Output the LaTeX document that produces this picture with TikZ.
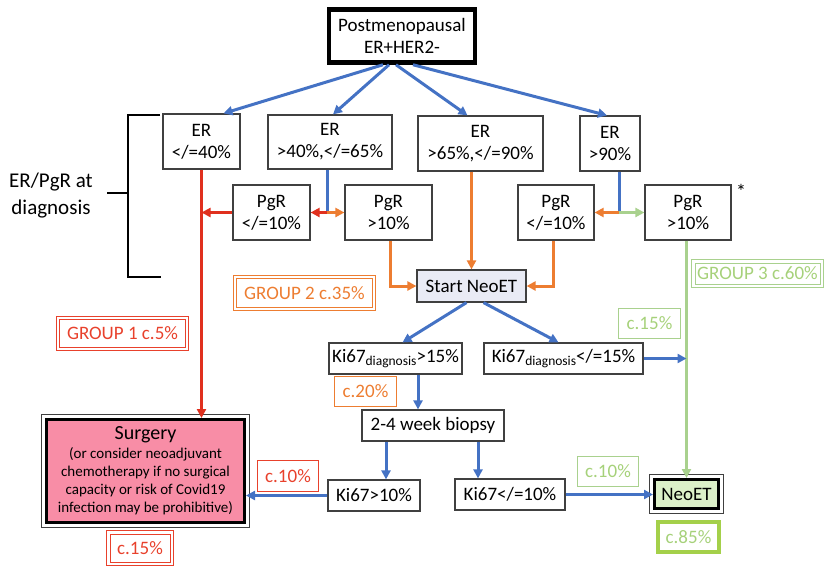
\documentclass[tikz,border=0pt]{standalone}
\usepackage{fontspec}
\setmainfont{Carlito}
\usetikzlibrary{arrows.meta,calc}
\definecolor{blueC}{HTML}{4472C4}
\definecolor{orangeC}{HTML}{ED7D31}
\definecolor{redC}{HTML}{E0301E}
\definecolor{redT}{HTML}{E8412C}
\definecolor{greenL}{HTML}{A9D18E}
\definecolor{greenT}{HTML}{A6D17A}
\definecolor{greenB}{HTML}{A4D04A}
\definecolor{pinkF}{HTML}{F88DA6}
\definecolor{startF}{HTML}{E9EBF5}
\definecolor{neoF}{HTML}{DCF0C8}
\definecolor{boxD}{HTML}{404040}
\newcommand{\mysub}[1]{\raisebox{-3.5pt}{\fontsize{13.5}{13.5}\selectfont #1}}
\newcommand{\dblframe}[2]{\draw[#2,line width=1pt] ([xshift=-2.8pt,yshift=2.8pt]#1.north west) rectangle ([xshift=2.8pt,yshift=-2.8pt]#1.south east);}
\tikzset{
  box/.style={draw=boxD,line width=1.2pt,align=center,inner sep=0pt,
    font=\fontsize{19}{22}\selectfont,fill=white},
  lab/.style={align=center,inner sep=0pt,font=\fontsize{19}{22}\selectfont},
  dbl/.style={lab,draw=#1,text=#1,line width=1pt},
  sgl/.style={lab,draw=#1,text=#1,line width=1.2pt},
  tip/.style={-{Triangle[length=9pt,width=9pt]}},
  conn/.style={line width=3pt,color=#1},
  arr/.style={conn=#1,tip},
}
\begin{document}
\begin{tikzpicture}[x=1pt,y=-1pt]
\useasboundingbox (0,0) rectangle (824,565);
% nodes
\node[box,draw=black,line width=4.5pt,minimum width=146pt,minimum height=53pt] (top) at (402,36) {Postmenopausal\\ER+HER2-};
\node[box,minimum width=77pt,minimum height=55pt] (er1) at (201.5,141.5) {ER\\</=40\%};
\node[box,minimum width=124pt,minimum height=54pt] (er2) at (330,142) {ER\\>40\%,</=65\%};
\node[box,minimum width=125pt,minimum height=55pt] (er3) at (480.5,143.5) {ER\\>65\%,</=90\%};
\node[box,minimum width=60pt,minimum height=55pt] (er4) at (610,143.5) {ER\\>90\%};
\node[box,minimum width=77pt,minimum height=55pt] (pgr1) at (271.5,212.5) {PgR\\</=10\%};
\node[box,minimum width=87pt,minimum height=55pt] (pgr2) at (388.5,212.5) {PgR\\>10\%};
\node[box,minimum width=76pt,minimum height=55pt] (pgr3) at (556,212.5) {PgR\\</=10\%};
\node[box,minimum width=86pt,minimum height=55pt] (pgr4) at (688,212.5) {PgR\\>10\%};
\node[lab,font=\fontsize{20}{22}\selectfont] (ast) at (741,191) {*};
\node[box,fill=startF,minimum width=109pt,minimum height=32pt] (start) at (471.5,286) {Start NeoET};
\node[box,minimum width=133pt,minimum height=31pt] (kd1) at (395.5,358.5) {Ki67\mysub{diagnosis}>15\%};
\node[box,minimum width=159pt,minimum height=31pt] (kd2) at (563.5,358.5) {Ki67\mysub{diagnosis}</=15\%};
\node[box,minimum width=142pt,minimum height=31pt] (bio) at (433,425.5) {2-4 week biopsy};
\node[box,minimum width=92pt,minimum height=31pt] (k1) at (374,495.5) {Ki67>10\%};
\node[box,minimum width=110pt,minimum height=31pt] (k2) at (510,494.5) {Ki67</=10\%};
\node[box,draw=black,line width=3pt,fill=neoF,minimum width=64pt,minimum height=29pt] (neo) at (686.5,494) {NeoET};
\draw[boxD,line width=1pt] ([xshift=-3.5pt,yshift=3.5pt]neo.north west) rectangle ([xshift=3.5pt,yshift=-3.5pt]neo.south east);
\node[box,draw=black,line width=3pt,fill=pinkF,minimum width=198pt,minimum height=103pt,
  font=\fontsize{15}{18}\selectfont] (surg) at (145.5,471)
  {{\fontsize{20}{20}\selectfont Surgery}\\[1pt]
   (or consider neoadjuvant\\
   chemotherapy if no surgical\\
   capacity or risk of Covid19\\
   infection may be prohibitive)};
\draw[boxD,line width=1pt] ([xshift=-3.5pt,yshift=3.5pt]surg.north west) rectangle ([xshift=3.5pt,yshift=-3.5pt]surg.south east);
% labels
\node[dbl=redT,minimum width=126pt,minimum height=28pt] (g1) at (122.5,333.5) {GROUP 1 c.5\%};
\dblframe{g1}{redT}
\node[dbl=orangeC,minimum width=136pt,minimum height=29pt] (g2) at (304.5,293) {GROUP 2 c.35\%};
\dblframe{g2}{orangeC}
\node[dbl=greenL,text=greenT,minimum width=125pt,minimum height=21pt] (g3) at (757.5,273.5) {GROUP 3 c.60\%};
\dblframe{g3}{greenL}
\node[sgl=greenL,text=greenT,minimum width=62pt,minimum height=30pt] (c15g) at (649.5,323.5) {c.15\%};
\node[sgl=orangeC,minimum width=62pt,minimum height=30pt] (c20) at (365.5,391.5) {c.20\%};
\node[sgl=redT,minimum width=61pt,minimum height=31pt] (c10r) at (288,476) {c.10\%};
\node[sgl=greenL,text=greenT,minimum width=61pt,minimum height=30pt] (c10g) at (608,471.5) {c.10\%};
\node[lab,draw=greenB,text=greenT,line width=4pt,minimum width=61pt,minimum height=30pt] (c85) at (688.5,537) {c.85\%};
\node[dbl=redT,minimum width=60pt,minimum height=28pt] (c15r) at (140,548) {c.15\%};
\dblframe{c15r}{redT}
% bracket
\node[lab,font=\fontsize{21}{27}\selectfont] (erpgr) at (51,196) {ER/PgR at\\diagnosis};
\draw[black,line width=2pt] (160,115) -- (128,115) -- (128,277) -- (161,277);
\draw[black,line width=2pt] (107,193) -- (128,193);
% top arrows
\draw[arr=blueC] ([xshift=-19pt]top.south) -- ([xshift=22pt]er1.north);
\draw[arr=blueC] ([xshift=-13pt]top.south) -- ([xshift=3pt]er2.north);
\draw[arr=blueC] ([xshift=-6pt]top.south) -- ([xshift=-13pt]er3.north);
\draw[arr=blueC] ([xshift=11pt]top.south) -- ([xshift=-3pt]er4.north);
% group 1
\draw[arr=redC] (er1.south) -- (er1.south |- surg.north);
\coordinate (jr) at (201.5,212.5);
\draw[arr=redC] (pgr1.west) -- (jr);
% ER2 split
\coordinate (j2) at (327,212.5);
\draw[conn=blueC] (j2 |- er2.south) -- (j2);
\draw[arr=redC] (j2) -- (pgr1.east);
\draw[arr=orangeC] (j2) -- (pgr2.west);
% to start
\draw[arr=orangeC] ([xshift=1.5pt]pgr2.south) -- ([xshift=1.5pt]pgr2.south |- start.west) -- (start.west);
\draw[arr=orangeC] (start.north |- er3.south) -- (start.north);
\draw[arr=orangeC] ([xshift=-3pt]pgr3.south) -- ([xshift=-3pt]pgr3.south |- start.east) -- (start.east);
% ER4 split
\coordinate (j4) at (619,212.5);
\draw[conn=blueC] (j4 |- er4.south) -- (j4);
\draw[arr=orangeC] (j4) -- (pgr3.east);
\draw[arr=greenL] (j4) -- (pgr4.west);
\draw[arr=greenL] (neo.north |- pgr4.south) -- (neo.north);
% from start
\draw[arr=blueC] ([xshift=-5pt]start.south) -- ([xshift=7pt]kd1.north);
\draw[arr=blueC] ([xshift=12pt]start.south) -- ([xshift=-5pt]kd2.north);
\draw[arr=blueC] (kd2.east) -- (kd2.east -| neo.north);
\draw[arr=blueC] ([xshift=22.5pt]kd1.south) -- ([xshift=22.5pt]kd1.south |- bio.north);
\draw[arr=blueC] ([xshift=-47pt]bio.south) -- ([xshift=-47pt]bio.south |- k1.north);
\draw[arr=blueC] ([xshift=45pt]bio.south) -- ([xshift=45pt]bio.south |- k2.north);
\draw[arr=blueC] (k1.west) -- (k1.west -| surg.east);
\draw[arr=blueC] (k2.east) -- (k2.east -| neo.west);
\end{tikzpicture}
\end{document}
